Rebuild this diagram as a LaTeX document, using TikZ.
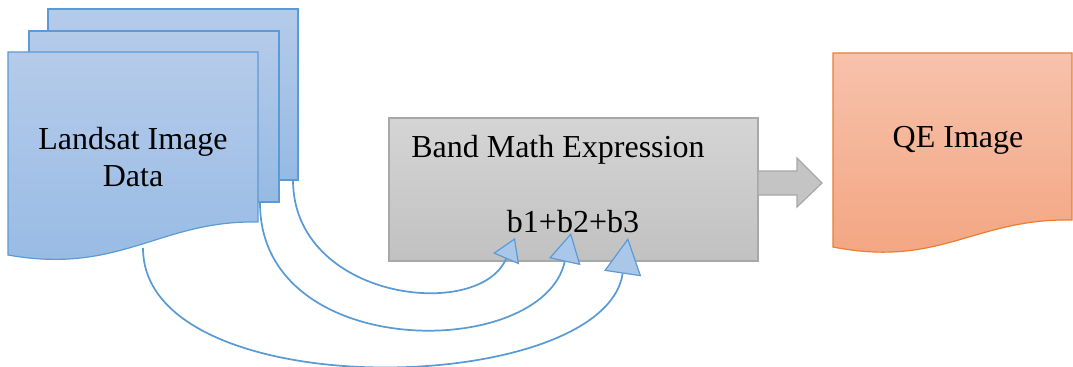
\documentclass[tikz,border=0pt]{standalone}
\usepackage{fontspec}
\setmainfont{Liberation Serif}
\usetikzlibrary{arrows.meta}

\definecolor{docblue}{RGB}{91,155,213}
\definecolor{doctop}{RGB}{181,203,234}
\definecolor{docbot}{RGB}{150,186,228}
\definecolor{tipblue}{RGB}{170,199,234}
\definecolor{qeline}{RGB}{237,125,49}
\definecolor{qetop}{RGB}{247,194,171}
\definecolor{qebot}{RGB}{243,164,128}
\definecolor{boxline}{RGB}{168,168,168}
\definecolor{boxtop}{RGB}{213,213,213}
\definecolor{boxbot}{RGB}{193,193,193}

\begin{document}
\begin{tikzpicture}[x=0.75pt,y=-0.75pt,
  sheet/.style={draw=docblue, line width=0.9pt, top color=doctop, bottom color=docbot},
  qedoc/.style={draw=qeline, line width=0.9pt, top color=qetop, bottom color=qebot},
  mathbox/.style={draw=boxline, line width=0.9pt, top color=boxtop, bottom color=boxbot},
  outarrow/.style={draw=boxline, line width=0.9pt, fill=boxbot!95!white},
  txt/.style={font=\fontsize{24}{27.5}\selectfont, inner sep=0pt},
  link/.style={draw=docblue, line width=1.3pt}]
  \useasboundingbox (0,0) rectangle (1073,367);

  % stacked landsat sheets, back to front
  \foreach \x/\y/\b in {48/9/180, 29/31/202}{
    \path[sheet] (\x,\y) rectangle (\x+250,\b);
  }
  \path[sheet] (8,52) -- (258,52) -- (258,222) .. controls (160,220) and (120,275) .. (8,255) -- cycle;
  \node[txt, align=center] (landsat) at (133,157) {Landsat Image\\Data};

  % band math box and output arrow
  \path[mathbox] (389,118) rectangle (758,261);
  \node[txt, anchor=base west] (band) at (411,157) {Band Math Expression};
  \node[txt, anchor=base] (expr) at (573,232) {b1+b2+b3};
  \path[outarrow] (758,171) -- (797,171) -- (797,158) -- (822,183) -- (797,207) -- (797,195) -- (758,195) -- cycle;

  % output document
  \path[qedoc] (833,53) -- (1072,53) -- (1072,220) .. controls (975,218) and (940,268) .. (833,247) -- cycle;
  \node[txt] (qe) at (958,140) {QE Image};

  % band links from each sheet
  \coordinate (s1) at (293,180);
  \coordinate (s2) at (260,203);
  \coordinate (s3) at (143,248);
  \coordinate (t1) at (515,238);
  \coordinate (t2) at (571,233);
  \coordinate (t3) at (628,238);
  \foreach \i/\p/\qx/\qy/\l/\w in {1/120/-36/84/17/21, 2/160/-28/128/22/24, 3/160/-24/160/27/28}{
    \draw[link, -{Triangle[length=\l pt, width=\w pt, fill=tipblue, line width=0.9pt]}]
      (s\i) .. controls +(0,\p) and +(\qx,\qy) .. (t\i);
  }
\end{tikzpicture}
\end{document}
